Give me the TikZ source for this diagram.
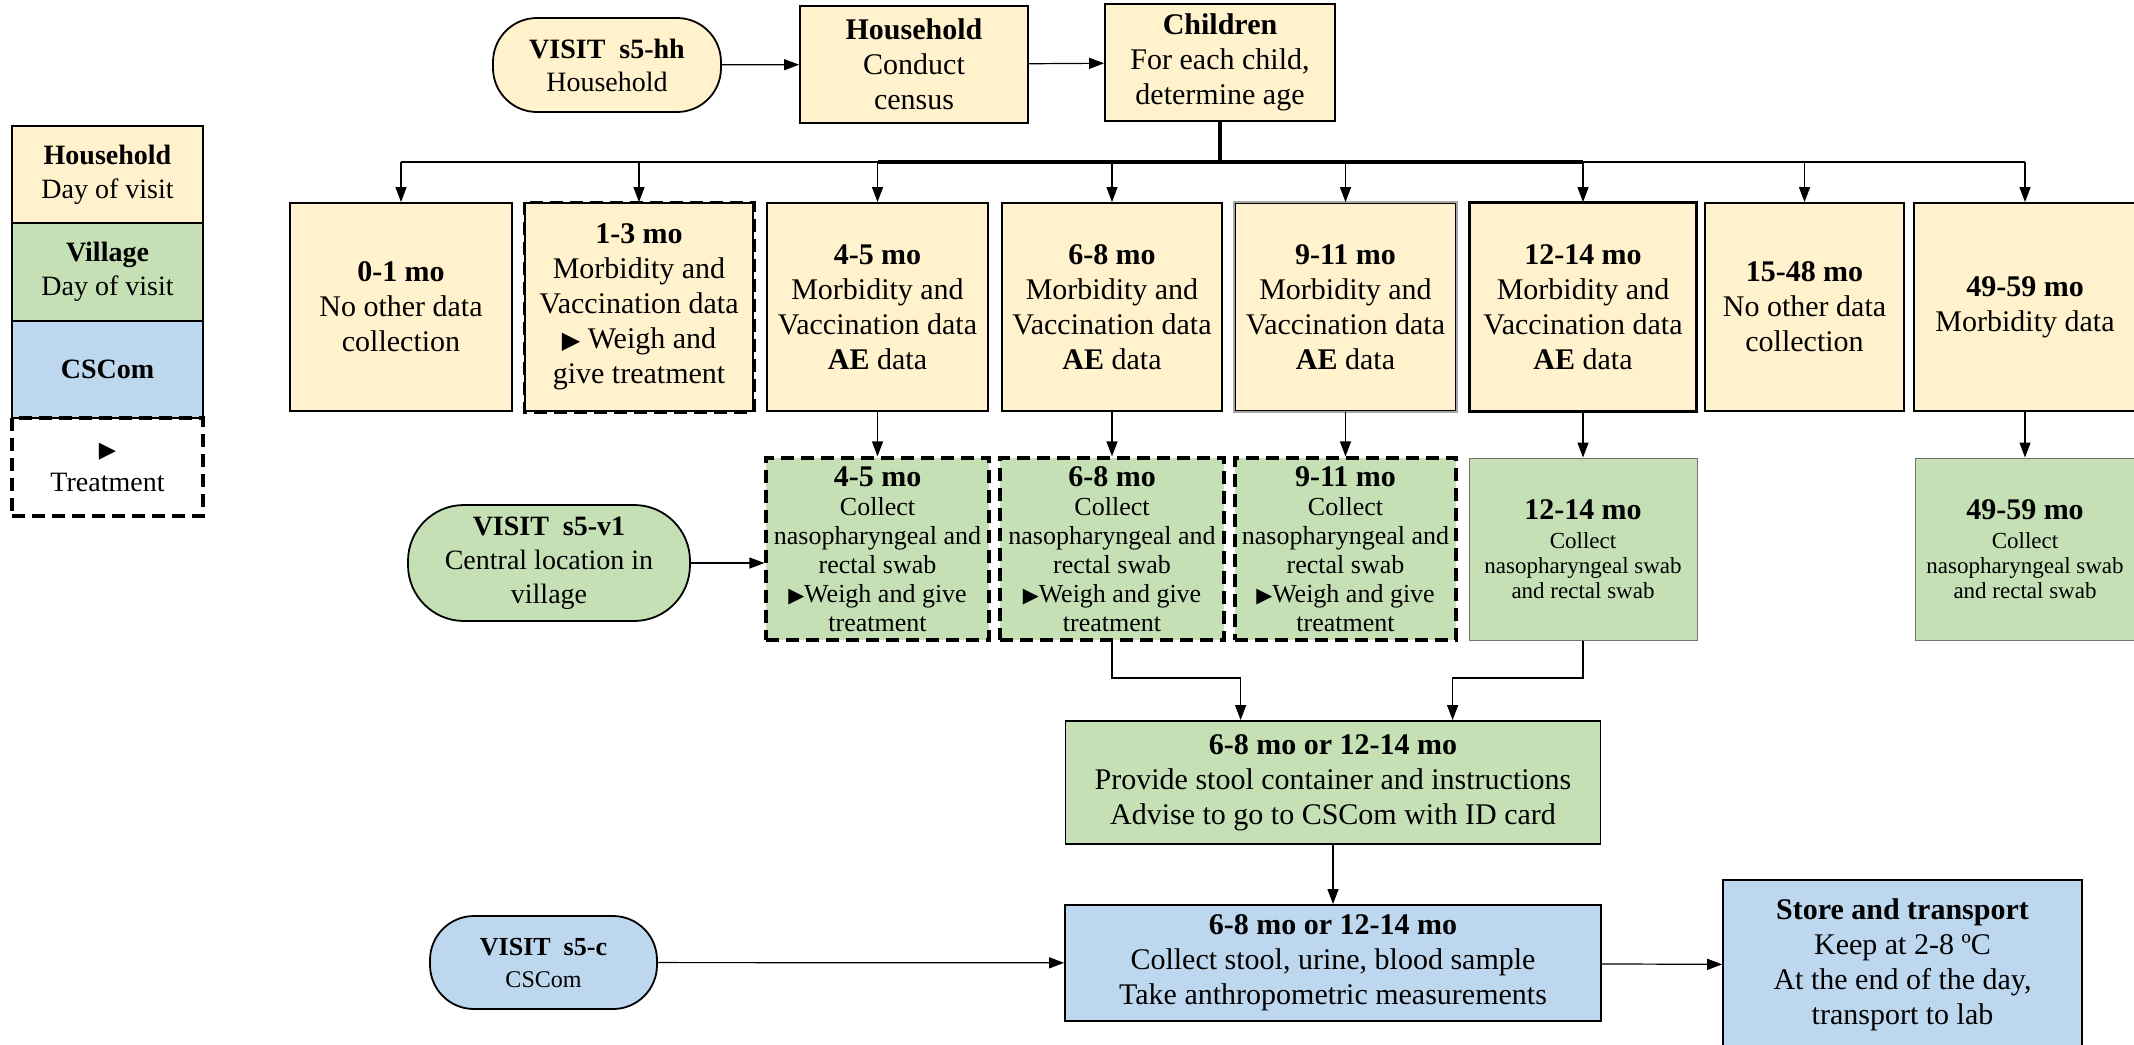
\documentclass[tikz,border=0pt]{standalone}
\usepackage{fontspec}
\setmainfont{Liberation Serif}
\newfontfamily\symfont{DejaVu Sans}
\usetikzlibrary{arrows.meta}
\definecolor{hhyellow}{HTML}{FFF2CC}
\definecolor{vilgreen}{HTML}{C5E0B4}
\definecolor{csblue}{HTML}{BDD7EE}
\newcommand{\tri}{\scalebox{0.8}{\symfont ▶}}
\tikzset{
  box/.style={draw, line width=0.9pt, align=center, inner sep=1pt, font=\fontsize{15}{17.5}\selectfont},
  hhbox/.style={box, fill=hhyellow},
  vilbox/.style={box, fill=vilgreen},
  csbox/.style={box, fill=csblue},
  treat/.style={dash pattern=on 6.5pt off 3.5pt, line width=1.6pt},
  thinedge/.style={draw=black!55, line width=0.5pt},
  arr/.style={-{Triangle[length=7.5pt,width=5.5pt]}, line width=0.6pt},
}
\newcommand{\agecell}[4]{\node[hhbox, minimum width=#3pt, minimum height=104pt] (#1) at (#2,307) {#4};}
\newcommand{\swabcell}[5]{\node[vilbox, minimum width=#3pt, minimum height=91pt, #4] (#1) at (#2,549) {#5};}
\newcommand{\swabtext}[1]{\textbf{\fontsize{15}{17}\selectfont #1}\\Collect\\nasopharyngeal and\\rectal swab\\\tri Weigh and give\\treatment}

\begin{document}
\begin{tikzpicture}[x=0.5pt, y=-0.5pt]
    \useasboundingbox (0,0) rectangle (2134,1044);
    %
    \node[hhbox, minimum width=95.5pt, minimum height=48.5pt, font=\fontsize{14}{17}\selectfont] (legHH) at (107.5,174.5) {\textbf{Household}\\Day of visit};
    \node[vilbox, minimum width=95.5pt, minimum height=49pt, font=\fontsize{14}{17}\selectfont] (legVil) at (107.5,272) {\textbf{Village}\\Day of visit};
    \node[csbox, minimum width=95.5pt, minimum height=48.5pt, font=\fontsize{14}{17}\selectfont] (legCS) at (107.5,369.5) {\textbf{CSCom}};
    \node[box, treat, minimum width=95.5pt, minimum height=49pt, font=\fontsize{14}{17}\selectfont] (legTr) at (107.5,467) {\tri\\Treatment};
    %
    \node[hhbox, rounded corners=22pt, minimum width=114pt, minimum height=47pt, font=\fontsize{14}{16.5}\selectfont] (visHH) at (607,65) {\textbf{VISIT\ \ s5-hh}\\Household};
    \node[hhbox, minimum width=114pt, minimum height=58.5pt] (hhBox) at (914,64.5) {\textbf{Household}\\Conduct\\census};
    \node[hhbox, minimum width=115pt, minimum height=58.5pt] (chBox) at (1220,62.5) {\textbf{Children}\\For each child,\\determine age};
    %
    \agecell{a01}{401}{111}{\textbf{0-1 mo}\\No other data\\collection}
    \agecell{a13}{639}{114}{\textbf{1-3 mo}\\Morbidity and\\Vaccination data\\\tri{} Weigh and\\give treatment}
    \agecell{a45}{877.5}{110.5}{\textbf{4-5 mo}\\Morbidity and\\Vaccination data\\\textbf{AE} data}
    \agecell{a68}{1112}{110}{\textbf{6-8 mo}\\Morbidity and\\Vaccination data\\\textbf{AE} data}
    \agecell{a911}{1345.5}{110.5}{\textbf{9-11 mo}\\Morbidity and\\Vaccination data\\\textbf{AE} data}
    \agecell{a1214}{1583}{113}{\textbf{12-14 mo}\\Morbidity and\\Vaccination data\\\textbf{AE} data}
    \agecell{a1548}{1804.5}{99.5}{\textbf{15-48 mo}\\No other data\\collection}
    \agecell{a4959}{2025}{111}{\textbf{49-59 mo}\\Morbidity data}
    \draw[treat] (a13.north west) rectangle (a13.south east);
    \draw[black!35, line width=0.9pt] (a911.north west) rectangle (a911.south east);
    \draw[line width=1.3pt] (a1214.north west) rectangle (a1214.south east);
    %
    \swabcell{g45}{877.5}{111.5}{treat, font=\fontsize{13}{14.5}\selectfont}{\swabtext{4-5 mo}}
    \swabcell{g68}{1112}{112}{treat, font=\fontsize{13}{14.5}\selectfont}{\swabtext{6-8 mo}}
    \swabcell{g911}{1345.5}{110.5}{treat, font=\fontsize{13}{14.5}\selectfont}{\swabtext{9-11 mo}}
    \swabcell{g1214}{1583}{114}{thinedge, font=\fontsize{11.5}{12.5}\selectfont}{\textbf{\fontsize{15}{17}\selectfont 12-14 mo}\\[2pt]Collect\\nasopharyngeal swab\\and rectal swab}
    \swabcell{g4959}{2025}{110}{thinedge, font=\fontsize{11.5}{12.5}\selectfont}{\textbf{\fontsize{15}{17}\selectfont 49-59 mo}\\[2pt]Collect\\nasopharyngeal swab\\and rectal swab}
    \node[vilbox, rounded corners=28pt, minimum width=141pt, minimum height=58pt, font=\fontsize{14}{17}\selectfont] (visV1) at (549,563) {\textbf{VISIT\ \ s5-v1}\\Central location in\\village};
    %
    \node[vilbox, minimum width=267.5pt, minimum height=61.5pt] (prov) at (1333,782.5) {\textbf{6-8 mo or 12-14 mo}\\Provide stool container and instructions\\Advise to go to CSCom with ID card};
    \node[csbox, minimum width=268pt, minimum height=58pt] (csBox) at (1333,963) {\textbf{6-8 mo or 12-14 mo}\\Collect stool, urine, blood sample\\Take anthropometric measurements};
    \node[csbox, rounded corners=22pt, minimum width=113.5pt, minimum height=46.5pt, font=\fontsize{13}{16}\selectfont] (visC) at (543.5,962.5) {\textbf{VISIT\ \ s5-c}\\{\fontsize{12}{14}\selectfont CSCom}};
    \node[csbox, minimum width=179.5pt, minimum height=85pt] (store) at (1902.5,965) {\textbf{Store and transport}\\Keep at 2-8 ºC\\At the end of the day,\\transport to lab};
    %
    \draw[arr] (visHH) -- (hhBox);
    \draw[arr] (hhBox) -- (chBox);
    \coordinate (bus) at (1220,162);
    \draw[line width=0.7pt] (a01.north |- bus) -- (a4959.north |- bus);
    \draw[line width=2pt] (chBox.south) -- (bus);
    \draw[line width=2pt] (a45.north |- bus) -- (a1214.north |- bus);
    \foreach \b in {a01,a13,a45,a68,a911,a1214,a1548,a4959}
        \draw[arr] (\b.north |- bus) -- (\b.north);
    \foreach \a/\g in {a45/g45,a68/g68,a911/g911,a1214/g1214,a4959/g4959}
        \draw[arr] (\a) -- (\g);
    \draw[arr] (visV1.east) -- (visV1.east -| g45.west);
    %
    \coordinate (join) at (1333,678);
    \draw[arr] (g68.south) -- (g68.south |- join) -| ([xshift=88pt]prov.north west);
    \draw[arr] (g1214.south) -- (g1214.south |- join) -| ([xshift=194pt]prov.north west);
    \draw[arr] (prov) -- (csBox);
    \draw[arr] (visC) -- (csBox);
    \draw[arr] (csBox) -- (store);
\end{tikzpicture}
\end{document}
